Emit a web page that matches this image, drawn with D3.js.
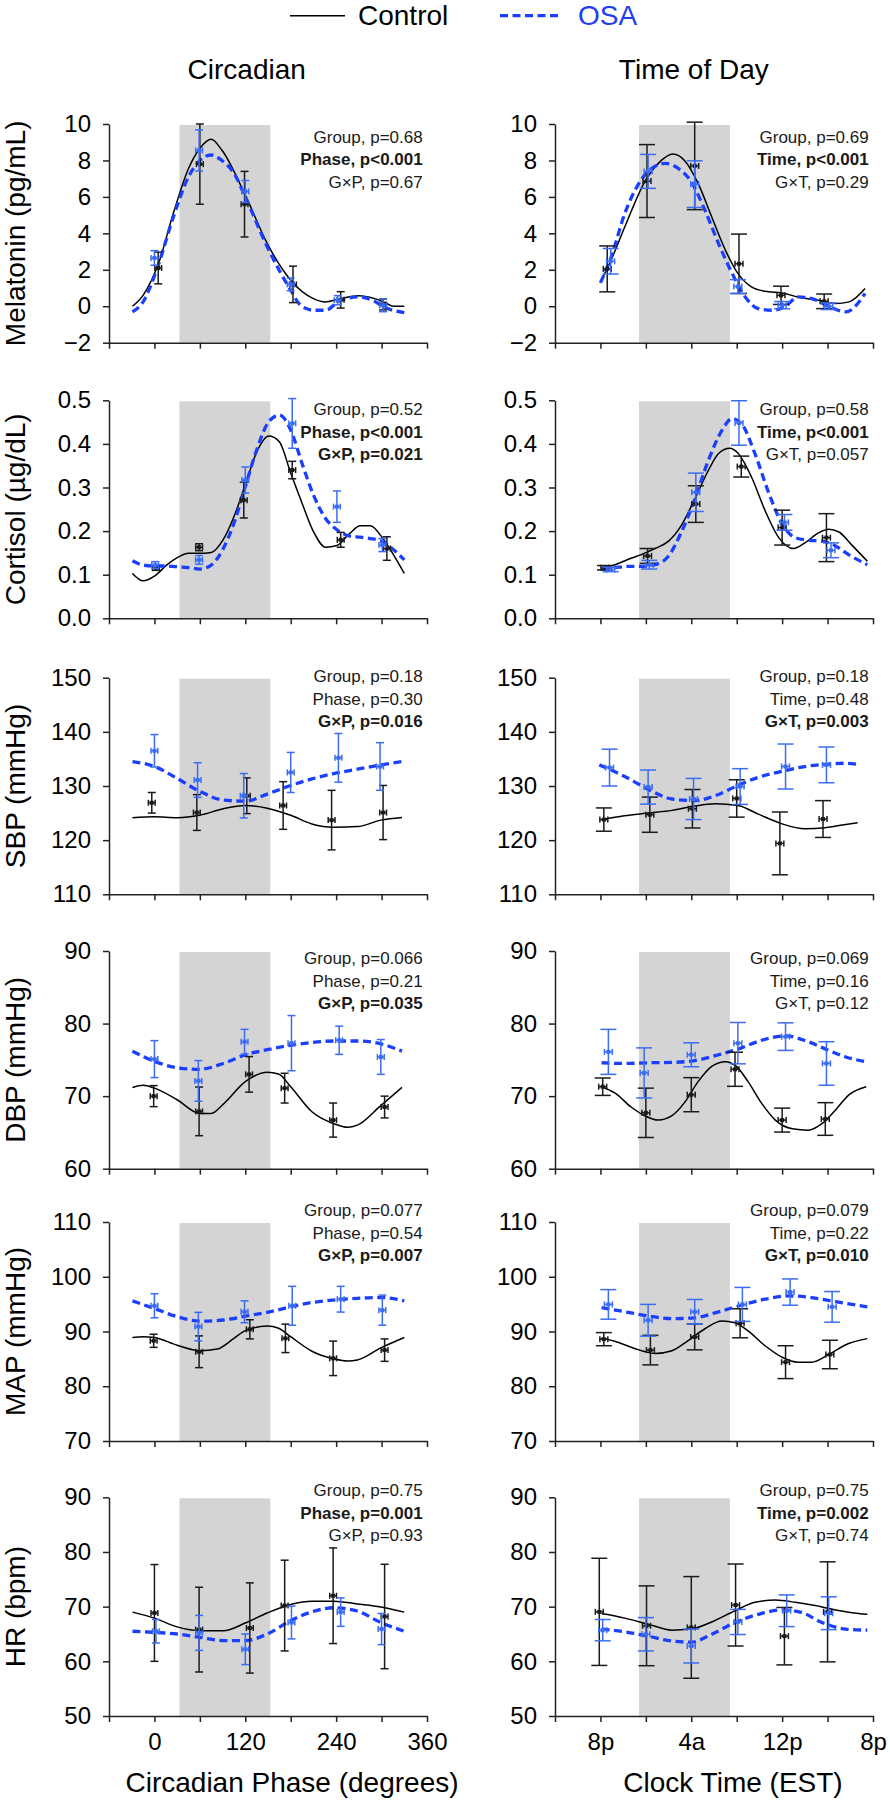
<!DOCTYPE html>
<html><head><meta charset="utf-8">
<script src="https://cdn.jsdelivr.net/npm/d3@7"></script>
<style>body{margin:0;background:#fff;} svg{display:block;} text{font-family:"Liberation Sans",Arial,sans-serif;}</style>
</head><body><svg id="c" width="890" height="1800"></svg>
<script>
// ---------------- DATA ----------------
const yLabels = ["Melatonin (pg/mL)", "Cortisol (µg/dL)", "SBP (mmHg)", "DBP (mmHg)", "MAP (mmHg)", "HR (bpm)"];
const yDomains = [[-2,10],[0,0.5],[110,150],[60,90],[70,110],[50,90]];
const yTicks = [[-2,0,2,4,6,8,10],[0,0.1,0.2,0.3,0.4,0.5],[110,120,130,140,150],[60,70,80,90],[70,80,90,100,110],[50,60,70,80,90]];
const yFormats = ["d", ".1f", "d", "d", "d", "d"];

const circTicks = [-60,0,60,120,180,240,300,360];
const circTickLabels = ["","0","","120","","240","","360"];
const todTicks = [16,20,24,28,32,36,40,44];
const todTickLabels = ["","8p","","4a","","12p","","8p"];
const circShade = [33,153];
const todShade = [23.4,31.4];

const circStats = [
 ["Group, p=0.68","Phase, p<0.001","G×P, p=0.67"],
 ["Group, p=0.52","Phase, p<0.001","G×P, p=0.021"],
 ["Group, p=0.18","Phase, p=0.30","G×P, p=0.016"],
 ["Group, p=0.066","Phase, p=0.21","G×P, p=0.035"],
 ["Group, p=0.077","Phase, p=0.54","G×P, p=0.007"],
 ["Group, p=0.75","Phase, p=0.001","G×P, p=0.93"]];
const circBold = [[0,1,0],[0,1,1],[0,0,1],[0,0,1],[0,0,1],[0,1,0]];
const todStats = [
 ["Group, p=0.69","Time, p<0.001","G×T, p=0.29"],
 ["Group, p=0.58","Time, p<0.001","G×T, p=0.057"],
 ["Group, p=0.18","Time, p=0.48","G×T, p=0.003"],
 ["Group, p=0.069","Time, p=0.16","G×T, p=0.12"],
 ["Group, p=0.079","Time, p=0.22","G×T, p=0.010"],
 ["Group, p=0.75","Time, p=0.002","G×T, p=0.74"]];
const todBold = [[0,1,0],[0,1,0],[0,0,1],[0,0,0],[0,0,1],[0,1,0]];

// points: [x, mean, sem]
const circControl = [
 [[5,2.1,0.87],[60,7.8,2.2],[119,5.6,1.8],[183,1.2,1.0],[246,0.35,0.45],[302,0.1,0.3]],
 [[2,0.115,0.005],[59,0.163,0.008],[118,0.271,0.041],[182,0.34,0.02],[246,0.18,0.017],[307,0.16,0.027]],
 [[-3.5,126.9,1.9],[56,125.1,3.3],[122,128.2,3.3],[170,126.4,4.4],[234,123.7,5.5],[302,125.1,5.0]],
 [[-1,70.0,1.45],[59,67.9,3.35],[125,73.0,2.45],[172,71.1,2.05],[236,66.7,2.35],[304,68.5,1.5]],
 [[-1,88.3,1.2],[59,86.3,2.9],[126,90.4,1.75],[173,88.75,2.6],[236,85.1,3.15],[304,86.6,2.05]],
 [[0,68.85,8.85],[59,65.8,7.75],[126,66.1,8.25],[172,70.2,8.3],[236,72.0,8.75],[304,68.2,9.55]]];
const circOSA = [
 [[0,2.65,0.4],[59,8.55,1.13],[120,6.3,0.6],[180,1.2,0.35],[242,0.33,0.25],[302,0.05,0.35]],
 [[1,0.122,0.008],[59,0.134,0.01],[120,0.317,0.03],[182,0.447,0.057],[241,0.256,0.036],[301,0.168,0.015]],
 [[0,136.5,3.0],[57,131.1,3.2],[118,128.2,4.1],[180,132.5,3.7],[243,135.2,4.5],[298,133.6,4.4]],
 [[0,75.1,2.55],[58,72.1,2.8],[119,77.5,1.7],[181,77.3,3.8],[244,77.7,1.95],[299,75.4,2.4]],
 [[0,94.7,2.2],[58,90.9,2.6],[119,93.6,2.0],[182,94.7,3.55],[246,95.9,2.35],[301,93.9,2.75]],
 [[2,65.5,2.15],[59,65.2,3.2],[120,62.2,2.8],[181,67.1,3.0],[246,69.0,2.6],[300,65.9,2.85]]];
const todControl = [
 [[20.6,2.05,1.26],[24.1,6.87,2.0],[28.3,7.7,2.4],[32.2,2.33,1.63],[35.9,0.6,0.5],[39.7,0.27,0.4]],
 [[20.4,0.116,0.005],[24.15,0.143,0.017],[28.4,0.262,0.042],[32.4,0.348,0.024],[36.0,0.208,0.04],[39.9,0.185,0.055]],
 [[20.3,123.8,2.15],[24.35,124.7,3.25],[28.1,125.8,3.55],[32.0,127.7,3.45],[35.8,119.4,5.8],[39.6,123.9,3.4]],
 [[20.2,71.3,1.2],[24.0,67.7,3.4],[28.0,70.2,2.35],[31.85,73.7,2.35],[36.0,66.7,1.65],[39.8,66.85,2.25]],
 [[20.3,88.6,1.2],[24.4,86.6,2.7],[28.3,89.0,2.35],[32.3,91.5,2.65],[36.3,84.4,3.0],[40.2,85.8,2.6]],
 [[19.9,69.05,9.8],[24.06,66.5,7.3],[28.0,66.2,9.3],[31.9,70.3,7.5],[36.2,64.6,5.25],[40.0,69.05,9.15]]];
const todOSA = [
 [[20.9,2.47,0.7],[24.2,7.4,0.93],[28.3,6.7,1.28],[32.1,1.08,0.38],[36.0,0.06,0.2],[40.1,0.0,0.18]],
 [[20.9,0.112,0.005],[24.3,0.123,0.01],[28.4,0.289,0.044],[32.2,0.448,0.051],[36.2,0.22,0.018],[40.3,0.156,0.017]],
 [[20.8,133.4,3.4],[24.2,129.8,3.15],[28.2,127.6,3.8],[32.3,129.9,3.3],[36.3,133.6,4.15],[39.9,133.9,3.3]],
 [[20.7,76.1,3.1],[23.85,73.2,3.45],[28.0,75.7,1.65],[32.1,77.3,2.85],[36.3,78.2,1.9],[39.9,74.5,3.0]],
 [[20.7,94.95,2.7],[24.2,92.05,2.9],[28.3,93.6,2.25],[32.5,94.95,3.1],[36.7,97.2,2.4],[40.4,94.5,2.8]],
 [[20.2,65.7,1.95],[24.0,64.95,3.05],[28.0,62.8,3.1],[32.1,67.2,2.3],[36.4,69.25,2.9],[40.1,68.8,3.0]]];

// fitted curves: [x, y]
const circControlCurve = [
 [[-29,0.0],[-15,0.6],[5,2.3],[25,5.1],[45,7.56],[60,8.66],[75,9.16],[89,8.57],[120,6.1],[149,3.44],[180,1.43],[210,0.42],[226,0.24],[246,0.42],[270,0.57],[303,0.24],[316,0.0],[330,0.0]],
 [[-29,0.103],[-15,0.086],[1,0.098],[16,0.122],[32,0.141],[45,0.149],[60,0.149],[75,0.151],[90,0.178],[105,0.233],[120,0.306],[135,0.381],[151,0.418],[165,0.405],[180,0.333],[195,0.264],[210,0.199],[226,0.163],[241,0.167],[257,0.193],[272,0.212],[285,0.212],[301,0.185],[316,0.145],[330,0.103]],
 [[-29,124.15],[0,124.3],[30,124.15],[60,124.6],[91,125.8],[120,126.4],[149,125.9],[180,124.6],[208,123.0],[237,122.4],[268,122.5],[299,123.7],[327,124.2]],
 [[-29,71.2],[-15,71.5],[0,71.1],[30,69.5],[60,67.6],[75,67.6],[91,68.9],[120,72.0],[149,73.3],[164,73.05],[180,71.3],[208,67.85],[237,66.2],[255,65.7],[268,66.0],[299,68.7],[327,71.2]],
 [[-29,88.9],[-15,89.05],[0,88.9],[30,87.5],[60,86.5],[83,86.8],[105,88.75],[120,90.15],[149,91.0],[164,90.6],[180,89.05],[208,86.4],[237,85.0],[255,84.6],[268,84.8],[299,87.0],[330,88.9]],
 [[-29,69.0],[0,67.9],[30,66.3],[60,65.6],[91,65.6],[120,67.0],[149,68.85],[180,70.4],[208,71.0],[237,71.0],[268,70.5],[299,69.95],[330,69.0]]];
const circOSACurve = [
 [[-29,-0.31],[-15,0.24],[3,2.0],[25,4.9],[45,7.1],[60,8.0],[75,8.3],[89,8.0],[105,7.3],[120,6.0],[149,3.26],[180,0.88],[193,0.05],[210,-0.22],[226,-0.22],[246,0.33],[270,0.51],[290,0.29],[303,-0.04],[330,-0.35]],
 [[-29,0.132],[-15,0.122],[1,0.12],[16,0.12],[32,0.118],[45,0.116],[60,0.113],[75,0.122],[90,0.157],[105,0.218],[120,0.302],[135,0.386],[151,0.451],[165,0.466],[180,0.432],[195,0.355],[210,0.283],[226,0.229],[241,0.203],[257,0.189],[272,0.186],[285,0.183],[301,0.176],[316,0.157],[330,0.134]],
 [[-29,134.5],[0,133.6],[30,131.4],[60,129.0],[91,127.4],[120,127.2],[149,128.5],[180,130.1],[208,131.3],[237,132.3],[268,133.1],[299,133.9],[327,134.5]],
 [[-29,76.2],[0,74.8],[30,73.9],[60,73.7],[91,74.5],[120,75.7],[149,76.4],[180,77.0],[208,77.4],[237,77.6],[268,77.6],[299,77.2],[327,76.2]],
 [[-29,95.6],[0,94.2],[30,92.7],[60,91.9],[91,92.1],[120,92.8],[149,93.5],[180,94.5],[208,95.3],[237,95.75],[268,96.05],[299,96.2],[330,95.6]],
 [[-29,65.5],[0,65.3],[30,65.0],[60,64.4],[91,63.8],[120,63.8],[149,65.0],[180,67.45],[208,69.05],[237,69.8],[268,69.2],[299,67.1],[330,65.5]]];
const todControlCurve = [
 [[20.0,1.34],[21.0,2.62],[22.15,4.36],[23.9,6.83],[25.1,7.84],[26.4,8.35],[27.4,8.0],[28.6,6.74],[29.8,4.9],[31.0,3.08],[32.1,1.8],[33.3,1.06],[34.5,0.82],[36.0,0.73],[37.4,0.51],[39.2,0.33],[40.7,0.15],[41.9,0.24],[43.3,0.97]],
 [[20.1,0.116],[21.3,0.123],[22.4,0.135],[23.6,0.146],[24.8,0.16],[26.0,0.177],[27.1,0.212],[28.3,0.273],[29.5,0.339],[30.4,0.378],[31.4,0.39],[32.1,0.379],[33.3,0.324],[34.5,0.247],[35.7,0.185],[37.0,0.16],[38.0,0.173],[39.2,0.196],[40.1,0.204],[41.0,0.198],[42.1,0.169],[43.5,0.131]],
 [[20.1,123.8],[22.1,124.5],[24.2,125.0],[26.3,125.5],[28.3,126.3],[30.1,126.7],[32.1,126.4],[33.9,124.8],[36.0,123.0],[38.0,122.1],[39.8,122.3],[41.6,122.9],[42.65,123.2]],
 [[20.1,71.3],[21.3,70.4],[22.7,68.5],[23.9,67.3],[25.1,66.7],[26.3,67.3],[27.4,69.1],[28.6,72.0],[29.8,74.1],[31.0,74.75],[31.9,74.2],[33.0,72.0],[34.2,69.0],[35.4,66.7],[36.9,65.5],[38.3,65.3],[39.5,66.2],[40.7,68.1],[41.9,70.2],[43.4,71.3]],
 [[20.1,88.8],[21.6,88.0],[23.0,86.9],[24.8,86.0],[26.3,86.5],[27.7,88.3],[29.2,90.5],[30.7,91.9],[31.85,91.6],[33.0,90.1],[34.5,87.4],[36.0,85.3],[37.4,84.4],[38.6,84.4],[40.1,85.8],[41.85,87.8],[43.5,88.7]],
 [[20.1,68.75],[22.15,67.9],[24.2,66.8],[26.3,65.7],[28.0,65.9],[29.8,67.2],[31.85,69.25],[33.6,70.8],[35.4,71.2],[37.15,70.8],[38.9,70.2],[40.7,69.4],[42.15,68.9],[43.5,68.6]]];
const todOSACurve = [
 [[20.0,1.28],[21.0,2.8],[22.15,5.1],[23.3,6.65],[24.5,7.56],[25.7,7.84],[26.85,7.56],[28.0,6.83],[29.2,5.27],[30.4,3.44],[31.6,1.8],[32.75,0.51],[33.9,-0.13],[35.1,-0.22],[36.3,0.0],[37.4,0.51],[38.6,0.42],[40.1,0.0],[41.6,-0.31],[43.3,0.7]],
 [[20.1,0.112],[21.3,0.116],[22.4,0.119],[23.6,0.119],[24.8,0.123],[26.0,0.143],[27.1,0.196],[28.3,0.273],[29.5,0.362],[30.7,0.431],[31.6,0.458],[32.4,0.447],[33.6,0.378],[34.8,0.289],[36.0,0.216],[37.15,0.185],[38.3,0.179],[39.5,0.177],[40.7,0.166],[41.85,0.146],[43.5,0.123]],
 [[19.9,133.9],[22.1,131.8],[24.2,129.4],[26.3,127.6],[28.3,127.3],[30.1,128.2],[32.1,130.1],[33.9,131.6],[36.0,132.7],[38.0,133.6],[39.8,134.0],[41.6,134.2],[42.65,134.0]],
 [[20.1,74.6],[22.15,74.5],[24.2,74.6],[26.3,74.65],[28.3,74.9],[30.4,75.7],[32.15,76.5],[34.2,77.7],[36.3,78.3],[38.3,77.5],[40.1,76.3],[41.6,75.4],[43.5,74.7]],
 [[20.1,94.35],[22.15,93.6],[24.2,92.85],[26.3,92.35],[28.3,92.5],[30.4,93.6],[32.4,94.8],[34.5,95.9],[36.6,96.5],[38.6,96.2],[40.7,95.45],[43.5,94.5]],
 [[20.1,65.9],[22.15,65.4],[24.2,64.6],[26.3,63.7],[28.0,63.5],[29.8,64.95],[31.85,67.1],[33.9,68.6],[36.0,69.4],[37.7,68.95],[39.5,67.1],[41.6,65.9],[43.5,65.7]]];

// ---------------- LAYOUT ----------------
const panelTop = [124, 400.3, 677.7, 951, 1222, 1497.3];
const panelBot = [342.7, 618.3, 894.3, 1168.7, 1441, 1716];
const statY = [142.7, 415.3, 682.3, 964, 1216, 1496];
const BLUE_LINE = "#1a3fff", BLUE_BAR = "#3b6cf5", AXIS = "#222";

const cols = [
 {x0:109, x1:427, domain:[-60,360], ticks:circTicks, labels:circTickLabels, shade:circShade,
  ctrl:circControl, osa:circOSA, cCurve:circControlCurve, oCurve:circOSACurve,
  stats:circStats, bold:circBold, xerr:4.5, cap:4, title:"Circadian", titleX:246.7,
  xTitle:"Circadian Phase (degrees)", xTitleX:292},
 {x0:555, x1:873, domain:[16,44], ticks:todTicks, labels:todTickLabels, shade:todShade,
  ctrl:todControl, osa:todOSA, cCurve:todControlCurve, oCurve:todOSACurve,
  stats:todStats, bold:todBold, xerr:0.35, cap:8, title:"Time of Day", titleX:693.8,
  xTitle:"Clock Time (EST)", xTitleX:733}
];

const svg = d3.select("#c");

// legend
svg.append("line").attr("x1",290).attr("x2",345).attr("y1",15.7).attr("y2",15.7).attr("stroke","#000").attr("stroke-width",1.5);
svg.append("text").attr("x",358).attr("y",24.5).attr("font-size",28).text("Control");
svg.append("line").attr("x1",500).attr("x2",560).attr("y1",15.7).attr("y2",15.7).attr("stroke",BLUE_LINE).attr("stroke-width",3.3).attr("stroke-dasharray","8,4.5");
svg.append("text").attr("x",578).attr("y",24.5).attr("font-size",28).attr("fill","#1f40f0").text("OSA");

function styleAxis(sel){
  sel.attr("font-size",24).attr("font-family",'"Liberation Sans", Arial, sans-serif');
  sel.select(".domain").attr("stroke",AXIS).attr("stroke-width",1.5);
  sel.selectAll(".tick line").attr("stroke",AXIS).attr("stroke-width",1.5);
  sel.selectAll(".tick text").attr("fill","#000");
}

cols.forEach((col, c) => {
  svg.append("text").attr("x",col.titleX).attr("y",79.3).attr("text-anchor","middle").attr("font-size",28).text(col.title);
  svg.append("text").attr("x",col.xTitleX).attr("y",1791.7).attr("text-anchor","middle").attr("font-size",28).text(col.xTitle);

  for (let i = 0; i < 6; i++) {
    const x = d3.scaleLinear().domain(col.domain).range([col.x0, col.x1]);
    const y = d3.scaleLinear().domain(yDomains[i]).range([panelBot[i], panelTop[i]]);
    const g = svg.append("g");

    // shaded sleep window
    g.append("rect").attr("x",x(col.shade[0])).attr("width",x(col.shade[1])-x(col.shade[0]))
      .attr("y",y(yDomains[i][1])+1).attr("height",y(yDomains[i][0])-y(yDomains[i][1])-1).attr("fill","#d4d4d4");

    // curves
    const line = d3.line().x(d=>x(d[0])).y(d=>y(d[1])).curve(d3.curveMonotoneX);
    g.append("path").attr("d",line(col.cCurve[i])).attr("fill","none").attr("stroke","#000").attr("stroke-width",1.5);
    g.append("path").attr("d",line(col.oCurve[i])).attr("fill","none").attr("stroke",BLUE_LINE)
      .attr("stroke-width",3.3).attr("stroke-dasharray","8,4.5");

    // points + error bars
    function drawPts(data, color){
      const gg = g.append("g").attr("stroke",color).attr("stroke-width",1.5).attr("fill","none");
      data.forEach(([xv, m, se]) => {
        const px = x(xv), py = y(m), yt = y(m+se), yb = y(m-se);
        gg.append("line").attr("x1",px).attr("x2",px).attr("y1",yt).attr("y2",yb);
        gg.append("line").attr("x1",px-col.cap).attr("x2",px+col.cap).attr("y1",yt).attr("y2",yt);
        gg.append("line").attr("x1",px-col.cap).attr("x2",px+col.cap).attr("y1",yb).attr("y2",yb);
        const xl = x(xv-col.xerr), xr = x(xv+col.xerr);
        gg.append("line").attr("x1",xl).attr("x2",xr).attr("y1",py).attr("y2",py);
        gg.append("line").attr("x1",xl).attr("x2",xl).attr("y1",py-3).attr("y2",py+3);
        gg.append("line").attr("x1",xr).attr("x2",xr).attr("y1",py-3).attr("y2",py+3);
        gg.append("rect").attr("x",px-2).attr("y",py-2).attr("width",4).attr("height",4).attr("fill",color).attr("stroke","none");
      });
    }
    drawPts(col.ctrl[i], "#1a1a1a");
    drawPts(col.osa[i], BLUE_BAR);

    // axes
    const ya = d3.axisLeft(y).tickValues(yTicks[i]).tickSize(6).tickPadding(12).tickSizeOuter(0).tickFormat(d3.format(yFormats[i]));
    g.append("g").attr("transform",`translate(${col.x0},0)`).call(ya).call(styleAxis);
    const xa = d3.axisBottom(x).tickValues(col.ticks).tickSize(6).tickPadding(11).tickSizeOuter(0)
      .tickFormat((d,k) => i === 5 ? col.labels[k] : "");
    g.append("g").attr("transform",`translate(0,${panelBot[i]})`).call(xa).call(styleAxis);

    // stats
    col.stats[i].forEach((t,k) => {
      g.append("text").attr("x",col.x0+313.7).attr("y",statY[i]+k*22.5).attr("text-anchor","end")
        .attr("font-size",17).attr("fill","#1a1a1a").attr("font-weight",col.bold[i][k]?"bold":"normal").text(t);
    });

    // y label
    if (c === 0) {
      const cy = (panelTop[i]+panelBot[i])/2;
      g.append("text").attr("transform",`translate(25,${cy}) rotate(-90)`).attr("text-anchor","middle")
        .attr("font-size",28).text(yLabels[i]);
    }
  }
});
</script></body></html>
